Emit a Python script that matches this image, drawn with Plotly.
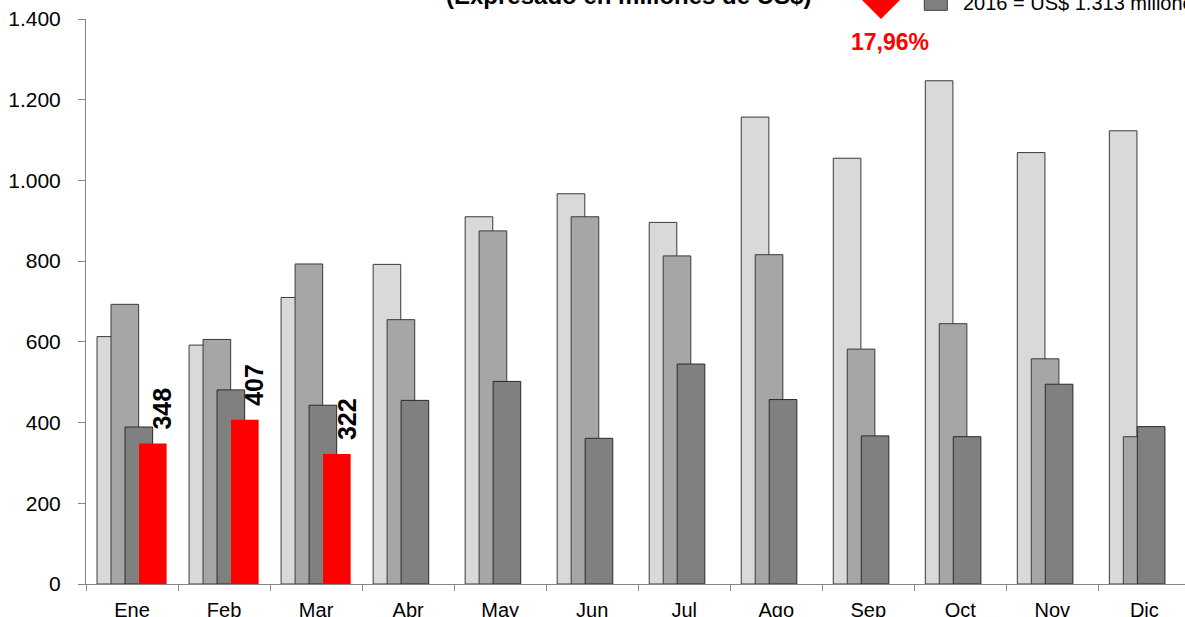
import plotly.graph_objects as go

# ---- data ----
months = ["Ene", "Feb", "Mar", "Abr", "May", "Jun", "Jul", "Ago", "Sep", "Oct", "Nov", "Dic"]
v2014 = [613, 592, 710, 792, 910, 967, 896, 1157, 1055, 1247, 1069, 1123]
v2015 = [693, 606, 793, 655, 875, 910, 813, 816, 582, 645, 558, 365]
v2016 = [389, 481, 443, 455, 502, 361, 545, 457, 367, 365, 495, 390]
v2017 = [348, 407, 322]
y_ticks = [0, 200, 400, 600, 800, 1000, 1200, 1400]
title_text = "(Expresado en millones de US$)"
legend_text = "2016 = US$ 1.313 millones"
pct_text = "17,96%"

FONT = "Liberation Sans, Arial, sans-serif"
W, H = 1185, 617
ML, MT, MB = 86, 19, 33
PW, PH = W - ML, H - MT - MB


def px(x):
    return (x - ML) / PW


def py(y):
    return (MT + PH - y) / PH


fig = go.Figure()
series = [
    ("2014", v2014, "#D9D9D9", "#3a3a3a", 1, -0.38),
    ("2015", v2015, "#A6A6A6", "#3a3a3a", 1, -0.228),
    ("2016", v2016, "#808080", "#2a2a2a", 1, -0.076),
    ("2017", v2017, "#FF0000", "#FF0000", 0, 0.076),
]
for name, vals, fill, line, lw, off in series:
    fig.add_trace(go.Bar(
        x=months[:len(vals)], y=vals, name=name,
        offset=off, width=0.3,
        marker=dict(color=fill, line=dict(color=line, width=lw)),
        hoverinfo="x+y+name",
    ))

for m, v in zip(months, v2017):
    fig.add_annotation(
        x=m, y=v, xref="x", yref="y", text=f"<b>{v}</b>", textangle=-90,
        showarrow=False, xanchor="center", yanchor="middle",
        xshift=30.5, yshift=34.5,
        font=dict(family=FONT, size=25, color="black"),
    )

# title (partially cut at top)
fig.add_annotation(
    x=px(628.5), y=py(-4.2), xref="paper", yref="paper", text=f"<b>{title_text}</b>",
    showarrow=False, xanchor="center", yanchor="middle",
    font=dict(family=FONT, size=24, color="black"),
)
# percentage
fig.add_annotation(
    x=px(890), y=py(42), xref="paper", yref="paper", text=f"<b>{pct_text}</b>",
    showarrow=False, xanchor="center", yanchor="middle",
    font=dict(family=FONT, size=23, color="#FF0000"),
)
# legend text
fig.add_annotation(
    x=px(960.7), y=py(3.0), xref="paper", yref="paper", text=legend_text,
    showarrow=False, xanchor="left", yanchor="middle",
    font=dict(family=FONT, size=20, color="black"),
)
# red down triangle
fig.add_shape(
    type="path", xref="paper", yref="paper",
    path=f"M {px(851)} {py(-11)} L {px(911)} {py(-11)} L {px(881)} {py(19)} Z",
    fillcolor="#FF0000", line=dict(width=0),
)
# legend square
fig.add_shape(
    type="rect", xref="paper", yref="paper",
    x0=px(924.3), x1=px(947.3), y0=py(-13), y1=py(10.3),
    fillcolor="#808080", line=dict(color="#404040", width=1),
)

axis_col = "#868686"
fig.update_layout(
    width=W, height=H,
    margin=dict(l=ML, r=0, t=MT, b=MB, pad=0),
    plot_bgcolor="white", paper_bgcolor="white",
    barmode="overlay", showlegend=False,
    separators=",.",
    font=dict(family=FONT, color="black"),
)
fig.update_xaxes(
    type="category", range=[-0.5, 11.442], showgrid=False, zeroline=False,
    showline=True, linecolor=axis_col, linewidth=1,
    ticks="outside", tickson="boundaries", ticklen=6, tickcolor=axis_col,
    tickfont=dict(family=FONT, size=20, color="black"), automargin=False,
    ticklabelstandoff=8,
)
fig.update_yaxes(
    range=[0, 1400], tickvals=y_ticks, tickformat=",d", showgrid=False, zeroline=False,
    showline=True, linecolor=axis_col, linewidth=1,
    ticks="outside", ticklen=7, tickcolor=axis_col,
    tickfont=dict(family=FONT, size=21, color="black"), automargin=False,
    ticklabelstandoff=13,
)

fig.write_html("out.html", config={"displayModeBar": False},
               post_script="document.body.style.margin='0';")
